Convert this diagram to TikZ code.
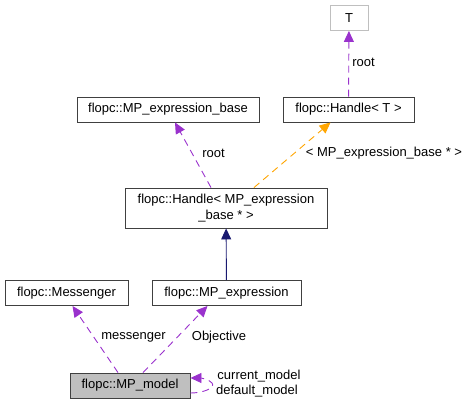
\documentclass[tikz,border=0pt]{standalone}
\usepackage{fontspec}
\setmainfont{Liberation Sans}
\usetikzlibrary{arrows.meta,calc}
\definecolor{edgepurple}{HTML}{9A32CD}
\definecolor{edgeorange}{HTML}{FFA500}
\definecolor{edgenavy}{HTML}{191970}
\definecolor{boxgray}{HTML}{BFBFBF}
\tikzset{
	cls/.style={draw=black!75, line width=0.9pt, minimum height=25pt, inner sep=2pt, align=center, font=\fontsize{13}{16.5}\selectfont},
	lbl/.style={inner sep=0pt, font=\fontsize{13}{16}\selectfont},
	usage/.style={edgepurple, line width=0.9pt, dash pattern=on 7pt off 5pt, -{Triangle[length=11pt,width=10pt]}},
	tmpl/.style={edgeorange, line width=0.9pt, dash pattern=on 7pt off 5pt, -{Triangle[length=11pt,width=10pt]}},
	inherit/.style={edgenavy, line width=0.9pt, -{Triangle[length=11pt,width=10pt]}}
}

\begin{document}
\begin{tikzpicture}[x=1pt,y=-1pt]
		%%%%% START %%%%%
		\useasboundingbox (0,0) rectangle (469,405);
		
		\node[cls, draw=boxgray, minimum width=38pt] (t) at (349, 18) {T};
		\node[cls, minimum width=131pt] (handlet) at (348.5, 109.5) {flopc::Handle< T >};
		\node[cls, minimum width=182pt] (exprbase) at (168, 109.5) {flopc::MP\_expression\_base};
		\node[cls, minimum width=202pt, minimum height=40pt] (handlebase) at (226, 208) {flopc::Handle< MP\_expression\\\_base * >};
		\node[cls, minimum width=123pt] (messenger) at (66.5, 293) {flopc::Messenger};
		\node[cls, minimum width=149pt] (expr) at (226.5, 293) {flopc::MP\_expression};
		\node[cls, fill=boxgray, minimum width=120pt] (model) at (130, 385.5) {flopc::MP\_model};
		
		\draw[usage] (handlet) -- (t);
		\node[lbl] (rootT) at (363.5, 62.5) {root};
		
		\draw[usage] ($(handlebase.north)+(-15,0)$) -- ($(exprbase.south)+(7,0)$);
		\node[lbl] (rootbase) at (213.5, 153.5) {root};
		
		\draw[tmpl] ($(handlebase.north)+(28,0)$) -- ($(handlet.south)+(-18,0)$);
		\node[lbl] (targ) at (384, 153.5) {< MP\_expression\_base * >};
		
		\draw[inherit] (expr) -- (handlebase);
		
		\draw[usage] ($(model.north)+(-12,0)$) -- ($(messenger.south)+(6,0)$);
		\node[lbl] (msglbl) at (133.5, 337.5) {messenger};
		
		\draw[usage] ($(model.north)+(13,0)$) -- ($(expr.south)+(-19,0)$);
		\node[lbl] (objlbl) at (219, 337.5) {Objective};
		
		\draw[usage] ($(model.east)+(0,7.5)$) .. controls (203, 393) and (216, 388) .. (212, 383) .. controls (209, 379) and (200, 378) .. ($(model.east)+(0,-7.5)$);
		\node[lbl] (curlbl) at (259, 376) {current\_model};
		\node[lbl] (deflbl) at (257, 391.5) {default\_model};
		
		%%%%% END %%%%%
	\end{tikzpicture}
\end{document}
